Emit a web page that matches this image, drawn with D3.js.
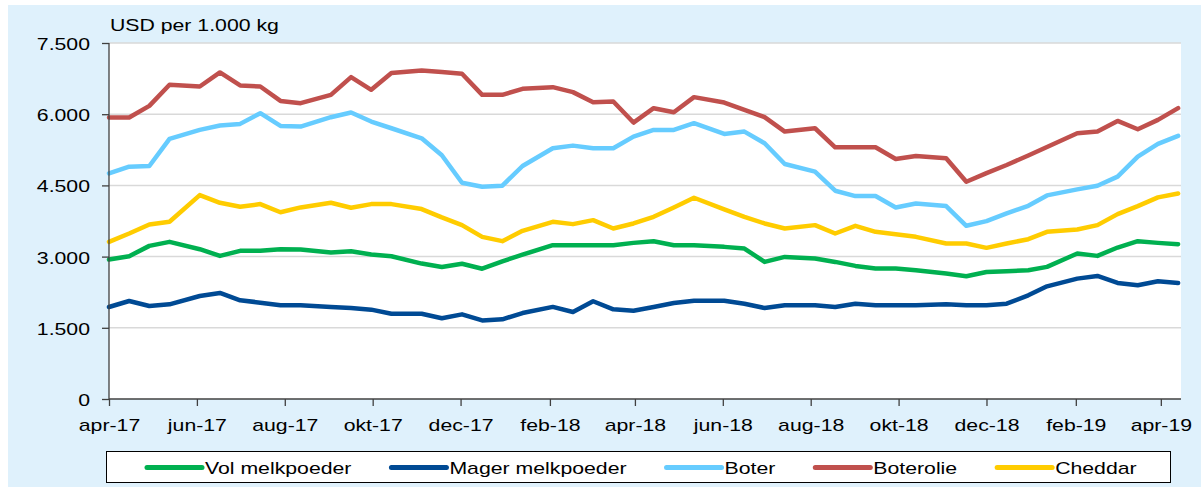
<!DOCTYPE html>
<html>
<head>
<meta charset="utf-8">
<script src="https://cdn.jsdelivr.net/npm/d3@7"></script>
<style type="text/css">
    body {
        margin: 0;
        background: #fff;
    }
    svg text {
        font-family: "Liberation Sans", Arial, sans-serif;
        font-size: 17px;
        fill: #000;
    }
    .grid line {
        stroke: #d9d9d9;
        stroke-width: 1.5px;
    }
    .axis path, .axis line {
        stroke: #404040;
        stroke-width: 1.3px;
    }
    .serie {
        fill: none;
        stroke-width: 4.5px;
        stroke-linejoin: round;
        stroke-linecap: round;
    }
</style>
</head>
<body>
<div id="chart"></div>
<script type="text/javascript">
    // GDT veilingdata, twee keer per maand
    var dates = ["2017-04-04", "2017-04-18", "2017-05-02", "2017-05-16", "2017-06-06", "2017-06-20",
        "2017-07-04", "2017-07-18", "2017-08-01", "2017-08-15", "2017-09-05", "2017-09-19",
        "2017-10-03", "2017-10-17", "2017-11-07", "2017-11-21", "2017-12-05", "2017-12-19",
        "2018-01-02", "2018-01-16", "2018-02-06", "2018-02-20", "2018-03-06", "2018-03-20",
        "2018-04-03", "2018-04-17", "2018-05-01", "2018-05-15", "2018-06-05", "2018-06-19",
        "2018-07-03", "2018-07-17", "2018-08-07", "2018-08-21", "2018-09-04", "2018-09-18",
        "2018-10-02", "2018-10-16", "2018-11-06", "2018-11-20", "2018-12-04", "2018-12-18",
        "2019-01-02", "2019-01-15", "2019-02-05", "2019-02-19", "2019-03-05", "2019-03-19",
        "2019-04-02", "2019-04-16"];

    var volMelkpoeder = [2938, 3008, 3226, 3311, 3156, 3015, 3121, 3121, 3156, 3149, 3085, 3114,
        3043, 3008, 2853, 2780, 2850, 2745, 2900, 3040, 3240, 3240, 3240, 3240,
        3289, 3325, 3240, 3240, 3205, 3170, 2888, 2994, 2959, 2888, 2804, 2748,
        2748, 2712, 2642, 2586, 2677, 2691, 2712, 2783, 3064, 3015, 3191, 3325,
        3289, 3261];

    var magerMelkpoeder = [1938, 2065, 1959, 1994, 2170, 2234, 2080, 2030, 1974, 1974, 1939, 1917,
        1882, 1797, 1797, 1700, 1783, 1656, 1678, 1811, 1940, 1832, 2060, 1890,
        1860, 1938, 2022, 2070, 2070, 2008, 1917, 1973, 1973, 1938, 2008, 1973,
        1973, 1973, 1994, 1973, 1973, 2008, 2184, 2374, 2536, 2593, 2445, 2395,
        2480, 2445];

    var boter = [4754, 4895, 4909, 5479, 5669, 5761, 5796, 6021, 5754, 5740, 5937, 6035,
        5845, 5704, 5493, 5135, 4555, 4472, 4493, 4909, 5282, 5338, 5282, 5282,
        5528, 5669, 5669, 5810, 5585, 5634, 5388, 4951, 4789, 4388, 4275, 4275,
        4036, 4120, 4064, 3649, 3747, 3909, 4071, 4289, 4416, 4493, 4684, 5106,
        5373, 5542];

    var boterolie = [5930, 5930, 6176, 6620, 6584, 6880, 6605, 6584, 6280, 6232, 6408, 6781,
        6514, 6866, 6922, 6887, 6852, 6408, 6408, 6535, 6570, 6465, 6253, 6267,
        5824, 6127, 6042, 6359, 6246, 6092, 5937, 5634, 5704, 5303, 5303, 5303,
        5057, 5120, 5071, 4578, 4760, 4930, 5130, 5310, 5599, 5634, 5859, 5683,
        5880, 6127];

    var cheddar = [3311, 3487, 3677, 3733, 4296, 4134, 4050, 4106, 3935, 4036, 4134, 4029,
        4106, 4106, 4001, 3825, 3663, 3416, 3325, 3543, 3733, 3684, 3768, 3592,
        3698, 3839, 4036, 4240, 3994, 3839, 3698, 3592, 3663, 3487, 3648, 3522,
        3473, 3416, 3276, 3276, 3184, 3276, 3367, 3522, 3571, 3663, 3895, 4064,
        4247, 4331];

    var seriesNames = ["Vol melkpoeder", "Mager melkpoeder", "Boter", "Boterolie", "Cheddar"];
    var seriesColors = ["#00b050", "#004a94", "#66ccff", "#c0504d", "#ffcc00"];
    var seriesValues = [volMelkpoeder, magerMelkpoeder, boter, boterolie, cheddar];

    var tickDates = ["2017-04-04", "2017-06-04", "2017-08-04", "2017-10-04", "2017-12-04",
        "2018-02-04", "2018-04-04", "2018-06-04", "2018-08-04", "2018-10-04", "2018-12-04",
        "2019-02-04", "2019-04-04"];
    var tickLabels = ["apr-17", "jun-17", "aug-17", "okt-17", "dec-17", "feb-18", "apr-18",
        "jun-18", "aug-18", "okt-18", "dec-18", "feb-19", "apr-19"];
    var yTicks = [0, 1500, 3000, 4500, 6000, 7500];

    var width = 1201, height = 490;
    var stretch = 1.25; // tekst is horizontaal uitgerekt in het origineel
    var margin = {left: 109, right: 20, top: 43, bottom: 91};

    var parse = d3.timeParse("%Y-%m-%d");
    var nl = d3.formatLocale({decimal: ",", thousands: ".", grouping: [3], currency: ["", ""]});
    var fmt = nl.format(",");

    var x = d3.scaleTime()
        .domain([parse("2017-04-04"), parse("2019-04-18")])
        .range([margin.left, width - margin.right]);

    var y = d3.scaleLinear()
        .domain([0, 7500])
        .range([height - margin.bottom, margin.top]);

    var svg = d3.select("#chart").append("svg")
        .attr("width", width)
        .attr("height", height);

    // achtergrond
    svg.append("rect")
        .attr("x", 8).attr("y", 5)
        .attr("width", width - 8).attr("height", 482)
        .attr("fill", "#dff1fc");

    svg.append("rect")
        .attr("x", margin.left).attr("y", margin.top)
        .attr("width", x.range()[1] - margin.left)
        .attr("height", y(0) - margin.top)
        .attr("fill", "#fff");

    // rasterlijnen
    svg.append("g")
        .attr("class", "grid")
        .selectAll("line")
        .data(yTicks.slice(1))
        .enter().append("line")
        .attr("x1", margin.left)
        .attr("x2", x.range()[1])
        .attr("y1", function(d) { return y(d); })
        .attr("y2", function(d) { return y(d); });

    // lijnen
    var line = d3.line()
        .x(function(d) { return x(d.date); })
        .y(function(d) { return y(d.value); });

    seriesValues.forEach(function(vals, i) {
        var pts = vals.map(function(v, j) { return {date: parse(dates[j]), value: v}; });
        svg.append("path")
            .datum(pts)
            .attr("class", "serie")
            .attr("stroke", seriesColors[i])
            .attr("d", line);
    });

    // assen
    var yAxis = svg.append("g")
        .attr("class", "axis")
        .attr("transform", "translate(" + margin.left + ",0)")
        .call(d3.axisLeft(y).tickValues(yTicks).tickFormat(fmt).tickSizeInner(7).tickSizeOuter(0));
    yAxis.select(".domain").remove();
    yAxis.append("line")
        .attr("x1", 0).attr("x2", 0)
        .attr("y1", y(7500)).attr("y2", y(0));
    yAxis.selectAll("text")
        .attr("x", -19 / stretch)
        .attr("dy", "0.38em")
        .attr("transform", "scale(" + stretch + ",1)")
        .attr("fill", "#000")
        .style("font-size", "17px")
        .style("font-family", "'Liberation Sans', Arial, sans-serif");

    var xAxis = svg.append("g")
        .attr("class", "axis")
        .attr("transform", "translate(0," + y(0) + ")")
        .call(d3.axisBottom(x)
            .tickValues(tickDates.map(parse))
            .tickFormat(function(d, i) { return tickLabels[i]; })
            .tickSizeInner(7).tickSizeOuter(0));
    xAxis.select(".domain").remove();
    xAxis.append("line")
        .attr("x1", margin.left).attr("x2", x.range()[1])
        .attr("y1", 0).attr("y2", 0);
    xAxis.selectAll("text")
        .attr("y", 32)
        .attr("dy", 0)
        .attr("transform", "scale(" + stretch + ",1)")
        .attr("fill", "#000")
        .style("font-size", "17px")
        .style("font-family", "'Liberation Sans', Arial, sans-serif");

    // eenheid
    svg.append("text")
        .attr("transform", "translate(110,31) scale(" + stretch + ",1)")
        .text("USD per 1.000 kg");

    // legenda
    var legend = svg.append("g");
    legend.append("rect")
        .attr("x", 106.5).attr("y", 451.5)
        .attr("width", 1064).attr("height", 31)
        .attr("fill", "#fff")
        .attr("stroke", "#000")
        .attr("stroke-width", 1);

    var lx = 147;
    seriesNames.forEach(function(name, i) {
        legend.append("line")
            .attr("x1", lx).attr("x2", lx + 55)
            .attr("y1", 467.5).attr("y2", 467.5)
            .attr("stroke", seriesColors[i])
            .attr("stroke-width", 5)
            .attr("stroke-linecap", "round");
        var t = legend.append("text")
            .attr("transform", "translate(" + (lx + 58) + ",474) scale(" + stretch + ",1)")
            .text(name);
        lx = lx + 58 + t.node().getComputedTextLength() * stretch + 40;
    });
</script>
</body>
</html>
